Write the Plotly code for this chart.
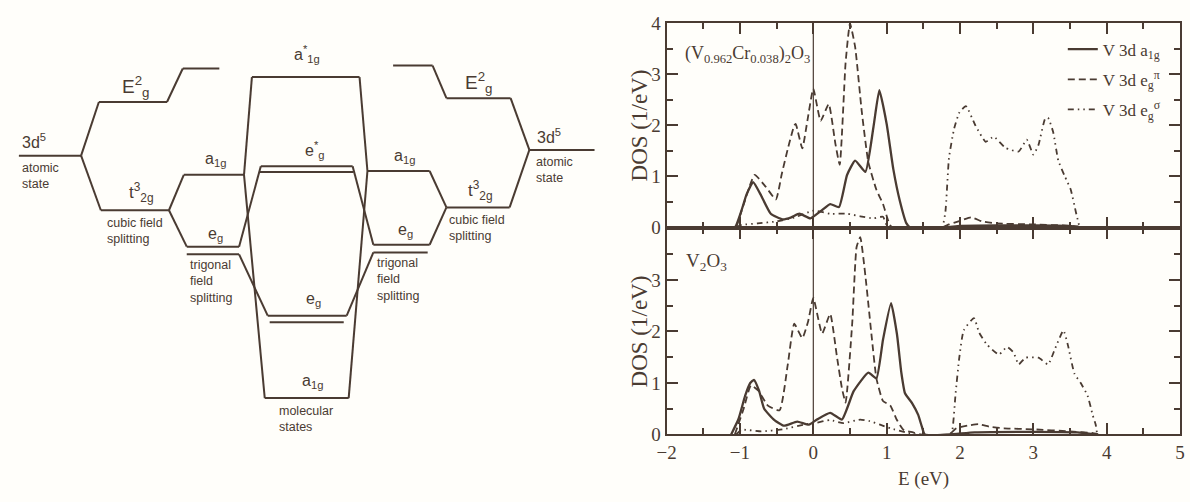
import plotly.graph_objects as go

INK = "#4a3b32"
SERIF = "Liberation Serif"
SANS = "Liberation Sans"

# ---------------- DOS data, (V0.962Cr0.038)2O3 (upper panel) ----------------
E_a1g_cr = [-1.2, -1.07, -0.98, -0.91, -0.82, -0.72, -0.58, -0.42, -0.3, -0.19, -0.04, 0.10, 0.23, 0.35,
            0.46, 0.57, 0.71, 0.82, 0.90, 1.0, 1.09, 1.18, 1.27, 1.32, 1.8, 2.0, 2.5, 3.0, 3.5, 3.65]
D_a1g_cr = [0, 0, 0.33, 0.65, 0.89, 0.65, 0.27, 0.16, 0.2, 0.27, 0.18, 0.32, 0.46, 0.40,
            1.03, 1.31, 1.09, 1.97, 2.69, 2.03, 1.15, 0.52, 0.08, 0, 0, 0.03, 0.04, 0.04, 0.03, 0]

E_epi_cr = [-1.05, -0.95, -0.80, -0.65, -0.51, -0.43, -0.35, -0.26, -0.24, -0.15, -0.08, 0.0, 0.10, 0.21,
            0.30, 0.36, 0.44, 0.50, 0.57, 0.66, 0.75, 0.86, 0.95, 1.02, 1.07, 1.75, 1.85, 2.0, 2.15,
            2.3, 2.5, 3.0, 3.4, 3.6, 3.65]
D_epi_cr = [0, 0.45, 1.03, 0.8, 0.55, 1.05, 1.53, 2.0, 2.03, 1.55, 2.1, 2.72, 2.09, 2.42,
            1.65, 1.23, 3.23, 4.0, 3.54, 2.28, 1.28, 0.74, 0.46, 0.14, 0, 0, 0.06, 0.13, 0.2,
            0.12, 0.08, 0.06, 0.04, 0.02, 0]

E_esig_cr = [-1.05, -0.98, -0.76, -0.5, -0.25, 0.0, 0.23, 0.46, 0.64, 0.82, 0.95, 1.0, 1.13, 1.75,
             1.8, 1.85, 1.92, 1.99, 2.08, 2.21, 2.35, 2.46, 2.62, 2.80, 2.91, 3.0, 3.07, 3.16, 3.20,
             3.27, 3.34, 3.43, 3.51, 3.58, 3.63]
D_esig_cr = [0, 0.05, 0.08, 0.12, 0.2, 0.33, 0.27, 0.27, 0.22, 0.18, 0.21, 0.05, 0, 0,
             0.3, 1.37, 1.94, 2.25, 2.38, 2.0, 1.68, 1.78, 1.56, 1.49, 1.72, 1.43, 1.62, 2.13, 2.15,
             1.87, 1.31, 1.0, 0.74, 0.30, 0]

# ---------------- DOS data, V2O3 (lower panel) ----------------
E_a1g_v = [-1.12, -1.02, -0.93, -0.86, -0.81, -0.74, -0.67, -0.53, -0.40, -0.22, -0.06, 0.05, 0.23, 0.39,
           0.55, 0.75, 0.86, 0.95, 1.06, 1.14, 1.2, 1.25, 1.35, 1.43, 1.48, 1.52, 1.85, 2.2, 3.0, 3.6, 3.85]
D_a1g_v = [0, 0.3, 0.75, 1.0, 1.06, 0.85, 0.5, 0.28, 0.17, 0.25, 0.19, 0.29, 0.42, 0.29,
           0.84, 1.20, 1.09, 1.84, 2.55, 1.95, 1.2, 0.8, 0.6, 0.38, 0.15, 0, 0, 0.04, 0.05, 0.04, 0]

E_epi_v = [-1.07, -0.95, -0.85, -0.75, -0.62, -0.46, -0.35, -0.26, -0.15, -0.07, 0.0, 0.12, 0.23, 0.32,
           0.39, 0.44, 0.53, 0.59, 0.64, 0.71, 0.80, 0.86, 0.95, 1.05, 1.14, 1.23, 1.36, 1.45, 1.85,
           1.95, 2.1, 2.25, 2.4, 2.6, 3.0, 3.5, 3.8, 3.9]
D_epi_v = [0, 0.5, 0.95, 0.85, 0.56, 0.47, 1.34, 2.15, 1.87, 2.2, 2.65, 1.96, 2.34, 1.53,
           0.90, 0.62, 2.15, 3.64, 3.83, 3.08, 1.84, 1.09, 0.65, 0.56, 0.28, 0.09, 0.04, 0, 0,
           0.12, 0.17, 0.2, 0.15, 0.12, 0.1, 0.06, 0.03, 0]

E_esig_v = [-1.05, -0.98, -0.71, -0.42, -0.13, 0.05, 0.23, 0.41, 0.64, 0.77, 0.91, 1.05, 1.27, 1.4,
            1.85, 1.89, 1.94, 1.99, 2.05, 2.19, 2.26, 2.37, 2.53, 2.64, 2.73, 2.80, 2.89, 3.07, 3.20,
            3.30, 3.41, 3.47, 3.56, 3.65, 3.74, 3.81, 3.85, 3.87]
D_esig_v = [0, 0.09, 0.06, 0.1, 0.19, 0.23, 0.28, 0.22, 0.29, 0.26, 0.19, 0.12, 0.04, 0,
            0, 0.05, 0.80, 1.49, 2.02, 2.26, 1.98, 1.74, 1.55, 1.70, 1.59, 1.36, 1.49, 1.49, 1.36,
            1.68, 2.02, 1.74, 1.18, 0.99, 0.75, 0.37, 0.19, 0]

fermi_E = 0.0
series_names = ["V 3d a<sub>1g</sub>", "V 3d e<sub>g</sub><sup>π</sup>", "V 3d e<sub>g</sub><sup>σ</sup>"]

# ---------------- energy-level diagram data ----------------
level_names = ["L3d", "LEg", "LEgH", "Lt2g", "La1g", "Leg1", "Leg2",
               "Ma1gS", "MegS1", "MegS2", "Meg1", "Meg2", "Ma1g",
               "Ra1g", "Reg1", "Reg2", "Rt2g", "REg", "REgH", "R3d"]
level_x0 = [9, 90, 175, 92, 176, 179, 179,
            245, 254, 253, 261, 263, 258,
            362, 368, 368, 442, 442, 388, 526]
level_x1 = [72, 159, 212, 161, 237, 232, 232,
            354, 347, 348, 341, 338, 343,
            425, 425, 423, 506, 507, 428, 592]
level_e = [152, 96, 61, 209, 172, 247, 255,
           70, 163, 169, 319, 326, 405,
           168, 245, 253, 206, 92, 58, 146]
conn_from = ["L3d:R", "L3d:R", "LEg:R", "Lt2g:R", "Lt2g:R", "La1g:R", "La1g:R", "Leg1:R", "Leg2:R",
             "Ra1g:L", "Ra1g:L", "Reg1:L", "Reg2:L", "Ra1g:R", "Reg1:R", "Rt2g:R", "REg:R", "REg:L"]
conn_to = ["LEg:L", "Lt2g:L", "LEgH:L", "La1g:L", "Leg1:L", "Ma1gS:L", "Ma1g:L", "MegS1:L", "Meg1:L",
           "Ma1gS:R", "Ma1g:R", "MegS1:R", "Meg1:R", "Rt2g:L", "Rt2g:L", "R3d:L", "R3d:L", "REgH:R"]

label_text = ["3d<sup>5</sup>", "E<sup>2</sup><sub>g</sub>", "t<sup>3</sup><sub>2g</sub>",
              "a<sub>1g</sub>", "e<sub>g</sub>", "a<sup>*</sup><sub>1g</sub>", "e<sup>*</sup><sub>g</sub>",
              "e<sub>g</sub>", "a<sub>1g</sub>", "a<sub>1g</sub>", "e<sub>g</sub>",
              "t<sup>3</sup><sub>2g</sub>", "E<sup>2</sup><sub>g</sub>", "3d<sup>5</sup>"]
label_x = [24, 128, 133, 208, 208, 301, 309, 307, 306, 400, 401, 477, 475, 546]
label_y = [137, 80, 190, 156, 234, 46, 146, 302, 388, 153, 230, 188, 76, 132]

note_text = ["atomic<br>state", "cubic field<br>splitting", "trigonal<br>field<br>splitting",
             "molecular<br>states", "trigonal<br>field<br>splitting", "cubic field<br>splitting",
             "atomic<br>state"]
note_x = [10, 96, 180, 270, 370, 443, 531]
note_y = [173, 231, 283, 427, 281, 227, 167]

# ---------------- figure ----------------
fig = go.Figure()

lev = {n: (a, b, e) for n, a, b, e in zip(level_names, level_x0, level_x1, level_e)}


def end_pt(ref):
    n, side = ref.split(":")
    a, b, e = lev[n]
    return (a if side == "L" else b), e


dx, dy = [], []
for n in level_names:
    a, b, e = lev[n]
    dx += [a, b, None]
    dy += [e, e, None]
for f, t in zip(conn_from, conn_to):
    (x0, y0), (x1, y1) = end_pt(f), end_pt(t)
    dx += [x0, x1, None]
    dy += [y0, y1, None]
fig.add_trace(go.Scatter(x=dx, y=dy, xaxis="x3", yaxis="y3", mode="lines",
                         line=dict(color=INK, width=2), showlegend=False, hoverinfo="skip"))

for t, x, y in zip(label_text, label_x, label_y):
    size = 19 if t.startswith("E") else (17 if t.startswith("t") else 16)
    fig.add_annotation(text=t, x=x, y=y, xref="x3", yref="y3", showarrow=False,
                       xanchor="center", yanchor="middle",
                       font=dict(family=SANS, size=size, color=INK))
for t, x, y in zip(note_text, note_x, note_y):
    fig.add_annotation(text=t, x=x, y=y, xref="x3", yref="y3", showarrow=False,
                       xanchor="left", yanchor="middle", align="left",
                       font=dict(family=SANS, size=12.5, color=INK))

styles = [dict(dash="solid", width=2.3), dict(dash="7px,4px", width=1.8),
          dict(dash="6px,4px,1.5px,4px,1.5px,4px", width=1.8)]
panels = [("x", "y", [(E_a1g_cr, D_a1g_cr), (E_epi_cr, D_epi_cr), (E_esig_cr, D_esig_cr)], True),
          ("x2", "y2", [(E_a1g_v, D_a1g_v), (E_epi_v, D_epi_v), (E_esig_v, D_esig_v)], False)]
for xa, ya, data, show in panels:
    fig.add_trace(go.Scatter(x=[fermi_E, fermi_E], y=[0, 4], xaxis=xa, yaxis=ya, mode="lines",
                             line=dict(color=INK, width=1.2), showlegend=False, hoverinfo="skip"))
    for (xs, ys), st, nm in zip(data, styles, series_names):
        fig.add_trace(go.Scatter(x=xs, y=ys, xaxis=xa, yaxis=ya, mode="lines", name=nm,
                                 legendgroup=nm, showlegend=show,
                                 line=dict(color=INK, width=st["width"], dash=st["dash"],
                                           shape="spline", smoothing=0.45)))

X0, X1 = 665 / 1190, 1185 / 1190
TOP = [1 - 227 / 502, 1 - 14 / 502]
BOT = [1 - 443 / 502, 1 - 228 / 502]

ax_common = dict(showline=True, linecolor=INK, linewidth=2, mirror="ticks", ticks="inside",
                 tickcolor=INK, tickwidth=2, ticklen=11, showgrid=False, zeroline=False,
                 tickfont=dict(family=SERIF, size=19, color=INK))
minor = dict(ticks="inside", ticklen=6, tickcolor=INK, tickwidth=2, dtick=0.5, showgrid=False)

fig.update_layout(
    width=1190, height=502,
    margin=dict(l=0, r=0, t=0, b=0),
    paper_bgcolor="#fffefa", plot_bgcolor="rgba(0,0,0,0)",
    showlegend=True,
    legend=dict(x=0.896, y=0.955, xanchor="left", yanchor="top", bgcolor="rgba(0,0,0,0)",
                font=dict(family=SERIF, size=17, color=INK), tracegroupgap=5, itemwidth=30),
    xaxis=dict(domain=[X0, X1], range=[-2, 5], anchor="y", dtick=1, tick0=0,
               showticklabels=False, minor=minor, **ax_common),
    yaxis=dict(domain=TOP, range=[0, 4], anchor="x", dtick=1, tick0=0, minor=minor, **ax_common),
    xaxis2=dict(domain=[X0, X1], range=[-2, 5], anchor="y2", dtick=1, tick0=0, matches="x",
                minor=minor, **ax_common),
    yaxis2=dict(domain=BOT, range=[0, 4], anchor="x2", tickvals=[0, 1, 2, 3, 4],
                ticktext=["0", "1", "2", "3", ""], minor=minor, **ax_common),
    xaxis3=dict(domain=[0, 620 / 1190], range=[0, 620], visible=False, anchor="y3"),
    yaxis3=dict(domain=[0, 1], range=[502, 0], visible=False, anchor="x3"),
)

fig.add_annotation(text="(V<sub>0.962</sub>Cr<sub>0.038</sub>)<sub>2</sub>O<sub>3</sub>",
                   x=-1.78, y=3.4, xref="x", yref="y", xanchor="left", yanchor="middle",
                   showarrow=False, font=dict(family=SERIF, size=18, color=INK))
fig.add_annotation(text="V<sub>2</sub>O<sub>3</sub>", x=-1.76, y=3.35, xref="x2", yref="y2",
                   xanchor="left", yanchor="middle", showarrow=False,
                   font=dict(family=SERIF, size=19, color=INK))
for dom in (TOP, BOT):
    fig.add_annotation(text="DOS (1/eV)", x=638 / 1190, y=(dom[0] + dom[1]) / 2, xref="paper",
                       yref="paper", textangle=-90, showarrow=False,
                       xanchor="center", yanchor="middle",
                       font=dict(family=SERIF, size=23, color=INK))
fig.add_annotation(text="E (eV)", x=925 / 1190, y=1 - 489 / 502, xref="paper", yref="paper",
                   xanchor="center", yanchor="middle",
                   showarrow=False, font=dict(family=SERIF, size=19, color=INK))

fig.write_html("out.html", config={"displayModeBar": False},
               post_script="document.body.style.margin='0';")
